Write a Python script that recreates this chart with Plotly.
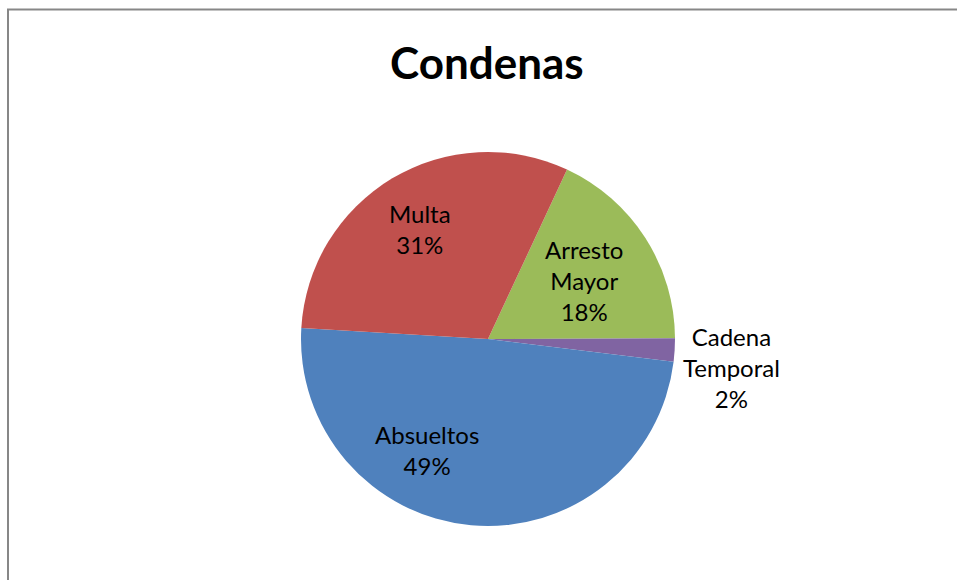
import math
import plotly.graph_objects as go

# Sentencing outcomes (share of cases, %)
categories = ["Arresto Mayor", "Cadena Temporal", "Absueltos", "Multa"]
label_text = ["Arresto<br>Mayor", "Cadena<br>Temporal", "Absueltos", "Multa"]
values = [18, 2, 49, 31]
colors = ["#9BBB59", "#8064A2", "#4F81BD", "#C0504D"]

title_text = "Condenas"

# Canvas and pie geometry (pixels)
W, H = 957, 580
CX, CY, R = 488, 339, 187
START_DEG = 25  # first slice begins here, measured clockwise from 12 o'clock

# Label placement per category: (radius factor, angular shift in degrees)
label_place = {
    "Arresto Mayor": (0.60, 1.0),
    "Cadena Temporal": (1.31, 3.2),
    "Absueltos": (0.675, 23.6),
    "Multa": (0.69, -0.9),
}

fig = go.Figure()
fig.add_trace(go.Pie(
    labels=categories,
    values=values,
    sort=False,
    direction="clockwise",
    rotation=START_DEG,
    marker=dict(colors=colors, line=dict(width=0)),
    textinfo="none",
    hoverinfo="label+percent",
    showlegend=False,
    domain=dict(x=[(CX - R) / W, (CX + R) / W],
                y=[(H - CY - R) / H, (H - CY + R) / H]),
))

# Percentage labels positioned from the slice angles
total = sum(values)
cum = 0.0
for cat, txt, v in zip(categories, label_text, values):
    mid = START_DEG + 360.0 * (cum + v / 2) / total
    cum += v
    rf, shift = label_place[cat]
    a = math.radians(mid + shift)
    px = CX + rf * R * math.sin(a)
    py = CY - rf * R * math.cos(a)
    pct = round(100 * v / total)
    fig.add_annotation(
        x=px / W, y=1 - py / H, xref="paper", yref="paper",
        text=f"{txt}<br>{pct}%", showarrow=False,
        xanchor="center", yanchor="middle", align="center",
        font=dict(family="Lato, Carlito, Calibri, sans-serif", size=24, color="#000000"),
    )

# Title
fig.add_annotation(
    x=487 / W, y=1 - 62 / H, xref="paper", yref="paper",
    text=f"<b>{title_text}</b>", showarrow=False,
    xanchor="center", yanchor="middle",
    font=dict(family="Lato, Carlito, Calibri, sans-serif", size=44, color="#000000"),
)

# Chart-area frame
fig.add_shape(
    type="rect", xref="paper", yref="paper",
    x0=8 / W, x1=1.05, y0=-0.05, y1=1 - 9.5 / H,
    line=dict(color="#878787", width=2), fillcolor="rgba(0,0,0,0)",
)

fig.update_layout(
    width=W, height=H,
    margin=dict(l=0, r=0, t=0, b=0),
    paper_bgcolor="#FFFFFF", plot_bgcolor="#FFFFFF",
)

fig.write_html("out.html")
